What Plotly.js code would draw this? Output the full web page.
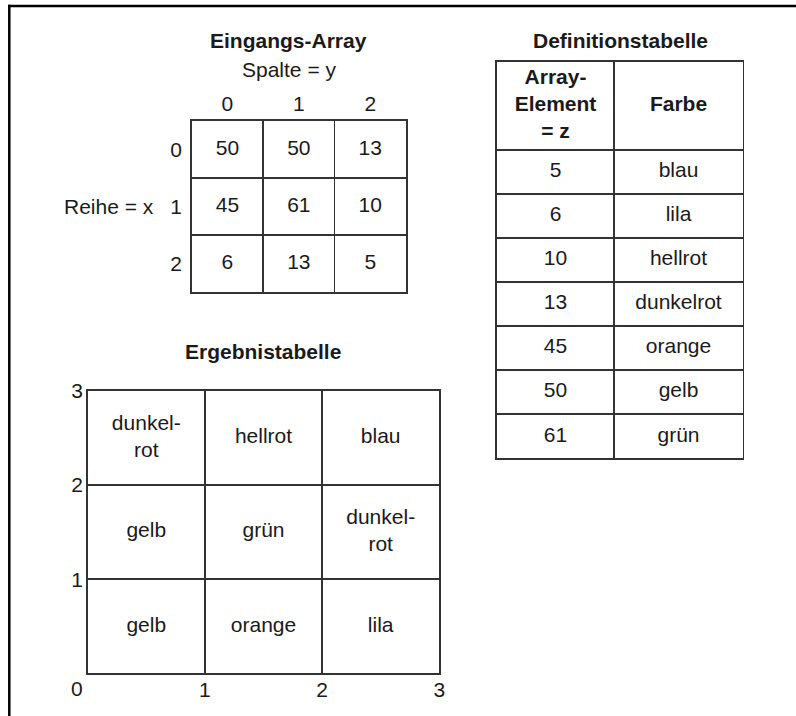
<!DOCTYPE html>
<html>
<head>
<meta charset="utf-8">
<script src="https://cdn.plot.ly/plotly-3.0.1.min.js"></script>
<style>html,body{margin:0;padding:0;background:#fff;}#chart{width:796px;height:716px;}</style>
</head>
<body>
<div id="chart"></div>
<script>
// ---------- DATA ----------
const inputRowLabels = ['0', '1', '2'];          // Reihe = x
const inputColLabels = ['0', '1', '2'];          // Spalte = y
const inputArray = [[50, 50, 13], [45, 61, 10], [6, 13, 5]];
const defElements = [5, 6, 10, 13, 45, 50, 61];
const defColors = ['blau', 'lila', 'hellrot', 'dunkelrot', 'orange', 'gelb', 'grün'];
const defHeader = ['Array-<br>Element<br>= z', 'Farbe'];
const resultTickVals = [0, 1, 2, 3];
const titles = { input: 'Eingangs-Array', cols: 'Spalte = y', rows: 'Reihe = x', def: 'Definitionstabelle', result: 'Ergebnistabelle' };
const hyphenated = { 'dunkelrot': 'dunkel-<br>rot' };

// ---------- STYLE / LAYOUT ----------
const W = 796, H = 716;
const FONT = 'Liberation Sans, Arial, Helvetica, sans-serif';
const TXT = '#1a1a1a';
const LINE = '#333333';
const LW = 1.6;
const FS = 21;
const X = px => px / W;
const Y = py => 1 - py / H;
const COL_SPLIT = 117.6 / 246;   // relative width of first column in definition table

// ---------- TRACES ----------
const traces = [];

// Eingangs-Array values
{
  const xs = [], ys = [], tx = [];
  inputArray.forEach((row, r) => row.forEach((v, c) => { xs.push(c); ys.push(r); tx.push(String(v)); }));
  traces.push({ type: 'scatter', mode: 'text', x: xs, y: ys, text: tx, xaxis: 'x', yaxis: 'y',
    textposition: 'middle center', textfont: { family: FONT, size: FS, color: TXT }, hoverinfo: 'skip', showlegend: false });
}

// Definition table
{
  const xs = [], ys = [], tx = [];
  defElements.forEach((e, i) => {
    xs.push(COL_SPLIT / 2); ys.push(i + 2.5); tx.push(String(e));
    xs.push((1 + COL_SPLIT) / 2); ys.push(i + 2.5); tx.push(defColors[i]);
  });
  traces.push({ type: 'scatter', mode: 'text', x: xs, y: ys, text: tx, xaxis: 'x3', yaxis: 'y3',
    textposition: 'middle center', textfont: { family: FONT, size: FS, color: TXT }, hoverinfo: 'skip', showlegend: false });
  traces.push({ type: 'scatter', mode: 'text', x: [COL_SPLIT / 2, (1 + COL_SPLIT) / 2], y: [1, 1],
    text: defHeader.map(h => '<b>' + h + '</b>'), xaxis: 'x3', yaxis: 'y3',
    textposition: 'middle center', textfont: { family: FONT, size: FS, color: TXT }, hoverinfo: 'skip', showlegend: false });
}

// Result table: cell (x=i, y=j) takes inputArray[i][j] looked up in the definition table
{
  const xs = [], ys = [], tx = [];
  inputArray.forEach((row, i) => row.forEach((z, j) => {
    const name = defColors[defElements.indexOf(z)];
    xs.push(i + 0.5); ys.push(j + 0.5); tx.push(hyphenated[name] || name);
  }));
  traces.push({ type: 'scatter', mode: 'text', x: xs, y: ys, text: tx, xaxis: 'x2', yaxis: 'y2',
    textposition: 'middle center', textfont: { family: FONT, size: FS, color: TXT }, hoverinfo: 'skip', showlegend: false });
}

// ---------- AXES ----------
const boxAxis = {
  showline: true, mirror: true, linecolor: LINE, linewidth: LW, zeroline: false,
  ticks: '', fixedrange: true, tickfont: { family: FONT, size: FS, color: TXT }
};
const n = inputArray.length;
const between = Array.from({ length: n - 1 }, (_, k) => k + 0.5);
const ann = (o) => Object.assign({ showarrow: false, xanchor: 'center', yanchor: 'middle', font: { family: FONT, size: FS, color: TXT } }, o);

const layout = {
  width: W, height: H, margin: { l: 0, r: 0, t: 0, b: 0 },
  paper_bgcolor: '#fff', plot_bgcolor: '#fff', showlegend: false,
  font: { family: FONT, size: FS, color: TXT },
  xaxis: Object.assign({}, boxAxis, {
    domain: [X(191.7), X(406)], range: [-0.5, n - 0.5], side: 'top',
    tickmode: 'array', tickvals: inputColLabels.map((_, i) => i), ticktext: inputColLabels,
    showgrid: false, ticklabelstandoff: 0,
    minor: { tickmode: 'array', tickvals: between, showgrid: true, gridcolor: LINE, gridwidth: LW, ticks: '' }
  }),
  yaxis: Object.assign({}, boxAxis, {
    domain: [Y(292.3), Y(120.7)], range: [n - 0.5, -0.5],
    tickmode: 'array', tickvals: inputRowLabels.map((_, i) => i), ticktext: inputRowLabels,
    showgrid: false, ticklabelstandoff: 4,
    minor: { tickmode: 'array', tickvals: between, showgrid: true, gridcolor: LINE, gridwidth: LW, ticks: '' }
  }),
  xaxis2: Object.assign({}, boxAxis, {
    domain: [X(87.7), X(439.3)], range: [0, 3], anchor: 'y2',
    tickmode: 'array', tickvals: resultTickVals.slice(1), ticktext: resultTickVals.slice(1).map(String),
    showgrid: true, gridcolor: LINE, gridwidth: LW, ticklabelstandoff: -3
  }),
  yaxis2: Object.assign({}, boxAxis, {
    domain: [Y(673.3), Y(391)], range: [0, 3], anchor: 'x2',
    tickmode: 'array', tickvals: resultTickVals.slice(1), ticktext: resultTickVals.slice(1).map(String),
    showgrid: true, gridcolor: LINE, gridwidth: LW, ticklabelstandoff: -1
  }),
  xaxis3: Object.assign({}, boxAxis, {
    domain: [X(496.7), X(742.7)], range: [0, 1], anchor: 'y3',
    showticklabels: false, showgrid: false,
    minor: { tickmode: 'array', tickvals: [COL_SPLIT], showgrid: true, gridcolor: LINE, gridwidth: LW, ticks: '' }
  }),
  yaxis3: Object.assign({}, boxAxis, {
    domain: [Y(458.3), Y(61.7)], range: [defElements.length + 2, 0], anchor: 'x3',
    showticklabels: false, showgrid: false,
    minor: { tickmode: 'array', tickvals: defElements.map((_, i) => i + 2), showgrid: true, gridcolor: LINE, gridwidth: LW, ticks: '' }
  }),
  annotations: [
    ann({ text: '<b>' + titles.input + '</b>', xref: 'paper', yref: 'paper', x: X(288), y: Y(40) }),
    ann({ text: titles.cols, xref: 'paper', yref: 'paper', x: X(288.5), y: Y(70) }),
    ann({ text: titles.rows, xref: 'paper', yref: 'y', x: X(156), y: (n - 1) / 2, xanchor: 'right' }),
    ann({ text: '<b>' + titles.def + '</b>', xref: 'paper', yref: 'paper', x: X(620), y: Y(40) }),
    ann({ text: '<b>' + titles.result + '</b>', xref: 'paper', yref: 'paper', x: X(263), y: Y(351) }),
    ann({ text: String(resultTickVals[0]), xref: 'x2', yref: 'y2', x: 0, y: 0, xshift: -11, yshift: -15 })
  ],
  shapes: [
    { type: 'line', xref: 'paper', yref: 'paper', x0: X(8), x1: 1, y0: Y(6), y1: Y(6), line: { color: '#000', width: 2.5 } },
    { type: 'line', xref: 'paper', yref: 'paper', x0: X(9.3), x1: X(9.3), y0: Y(4.8), y1: 0, line: { color: '#000', width: 2.5 } }
  ]
};

Plotly.newPlot('chart', traces, layout, { staticPlot: true, displayModeBar: false });
</script>
</body>
</html>
